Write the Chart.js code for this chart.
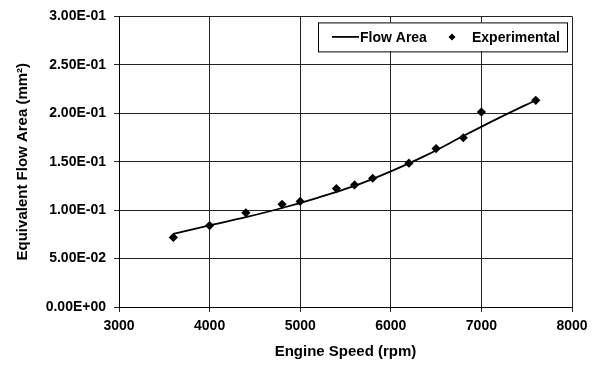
<!DOCTYPE html>
<html>
<head>
<meta charset="utf-8">
<script src="https://cdn.jsdelivr.net/npm/chart.js@4"></script>
<style>
  html, body { margin: 0; padding: 0; background: #fff; }
  #wrap { width: 600px; height: 367px; }
</style>
</head>
<body>
<div id="wrap"><canvas id="chart" width="600" height="367"></canvas></div>
<script>
// engine speed (rpm) / equivalent flow area (mm2)
const expSpeed = [3600, 4000, 4400, 4800, 5000, 5400, 5600, 5800, 6200, 6500, 6800, 7000, 7600];
const expArea = [0.0718, 0.0841, 0.0972, 0.1060, 0.1090, 0.1223, 0.1260, 0.1329, 0.1485, 0.1635, 0.1747, 0.2012, 0.2134];

const flowSpeed = [3600, 4000, 4400, 4800, 5200, 5600, 6000, 6400, 6800, 7200, 7600];
const flowArea = [0.0755, 0.0842, 0.0927, 0.1022, 0.1130, 0.1250, 0.1400, 0.1570, 0.1765, 0.1955, 0.2135];

const legendLabels = ['Flow Area', 'Experimental'];
const fontFam = '"Liberation Sans", Arial, sans-serif';

// 3.00E-01 style labels
function sci(v) {
    let parts = Number(v).toExponential(2).split('e');
    let e = parseInt(parts[1], 10);
    let sign = e < 0 ? '-' : '+';
    e = Math.abs(e);
    return parts[0] + 'E' + sign + (e < 10 ? '0' : '') + e;
}

const boxLegend = {
    id: 'boxLegend',
    afterDraw(chart) {
        const ctx = chart.ctx;
        const area = chart.chartArea;
        const right = area.right - 4, top = area.top + 6;
        const left = right - 250, h = 29;
        ctx.save();
        ctx.fillStyle = '#fff';
        ctx.fillRect(left, top, 250, h);
        ctx.strokeStyle = '#000';
        ctx.lineWidth = 1;
        ctx.strokeRect(left + 0.5, top + 0.5, 249, h);
        const cy = top + h / 2;
        ctx.beginPath();
        ctx.lineWidth = 1.8;
        ctx.moveTo(left + 14, cy);
        ctx.lineTo(left + 41, cy);
        ctx.stroke();
        ctx.fillStyle = '#000';
        ctx.font = 'bold 14px ' + fontFam;
        ctx.textBaseline = 'middle';
        ctx.fillText(legendLabels[0], left + 42, cy + 1);
        ctx.beginPath();
        const dx = left + 134;
        ctx.moveTo(dx, cy - 3.5);
        ctx.lineTo(dx + 3.5, cy);
        ctx.lineTo(dx, cy + 3.5);
        ctx.lineTo(dx - 3.5, cy);
        ctx.closePath();
        ctx.fill();
        ctx.fillText(legendLabels[1], left + 154, cy + 1);
        ctx.restore();
    }
};

const ctx = document.getElementById('chart').getContext('2d');
const chart = new Chart(ctx, {
    type: 'scatter',
    data: {
        datasets: [{
            label: legendLabels[0],
            data: flowSpeed.map((s, i) => ({x: s, y: flowArea[i]})),
            showLine: true,
            borderColor: '#000',
            borderWidth: 1.8,
            pointRadius: 0,
            tension: 0.3
        }, {
            label: legendLabels[1],
            data: expSpeed.map((s, i) => ({x: s, y: expArea[i]})),
            showLine: false,
            pointStyle: 'rectRot',
            pointRadius: 4.6,
            backgroundColor: '#000',
            borderColor: '#000',
            borderWidth: 0
        }]
    },
    options: {
        responsive: false,
        animation: false,
        layout: {padding: {top: 11, right: 28, bottom: 2, left: 0}},
        plugins: {legend: {display: false}, tooltip: {enabled: false}},
        scales: {
            x: {
                type: 'linear',
                min: 3000, max: 8000,
                afterFit(scale) { scale.height = 58; },
                ticks: {
                    stepSize: 1000,
                    color: '#000',
                    padding: 6,
                    maxRotation: 0,
                    font: {family: fontFam, size: 14, weight: 'bold'},
                    callback: v => String(v)
                },
                grid: {color: '#222', lineWidth: 1, tickLength: 5},
                border: {color: '#000', width: 1},
                title: {
                    display: true,
                    text: 'Engine Speed (rpm)',
                    color: '#000',
                    padding: {top: 0, bottom: 4},
                    font: {family: fontFam, size: 15, weight: 'bold'}
                }
            },
            y: {
                min: 0, max: 0.3,
                afterFit(scale) { scale.width = 119; },
                ticks: {
                    stepSize: 0.05,
                    color: '#000',
                    padding: 8,
                    font: {family: fontFam, size: 14, weight: 'bold'},
                    callback: v => sci(v)
                },
                grid: {color: '#222', lineWidth: 1, tickLength: 5},
                border: {color: '#000', width: 1},
                title: {
                    display: true,
                    text: 'Equivalent Flow Area (mm²)',
                    color: '#000',
                    padding: {top: 14, bottom: 0},
                    font: {family: fontFam, size: 15, weight: 'bold'}
                }
            }
        }
    },
    plugins: [boxLegend]
});
</script>
</body>
</html>
